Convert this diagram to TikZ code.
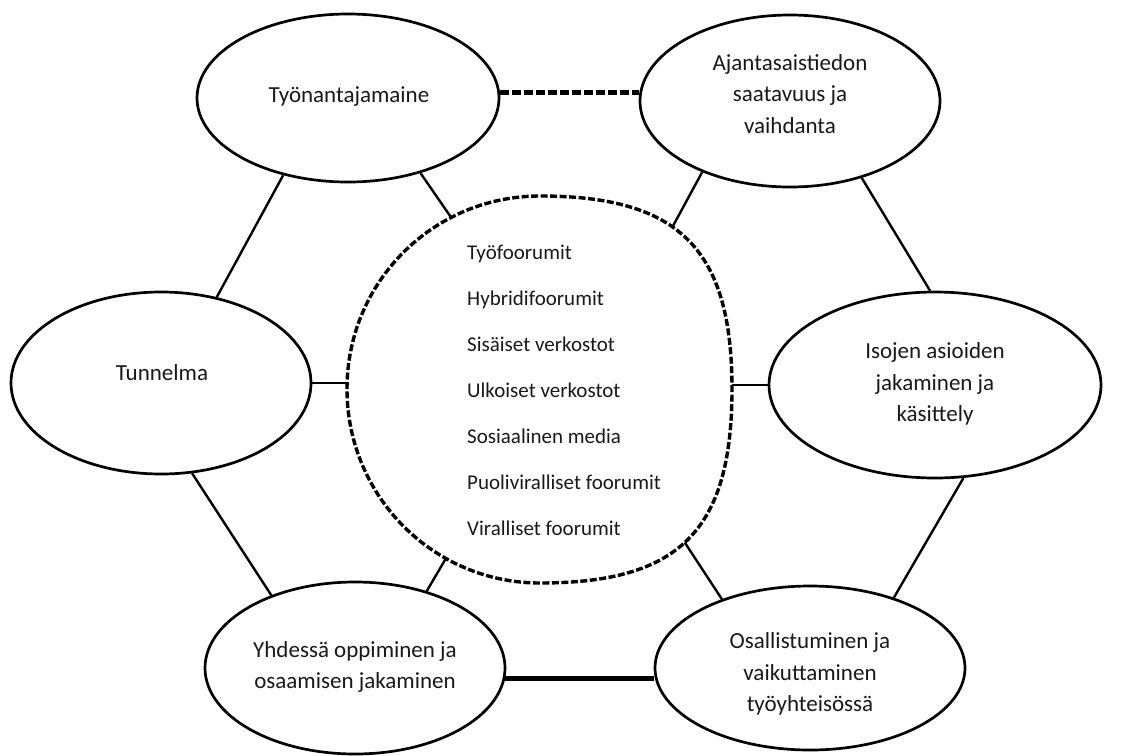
\documentclass[tikz,border=0pt]{standalone}
\usepackage{fontspec}
\setmainfont{Carlito}
\newcommand\outerfnt{\fontsize{23}{31.5}\selectfont}
\newcommand\innerfnt{\fontsize{21}{46}\selectfont}
\usetikzlibrary{shapes.geometric}
\tikzset{
  ell/.style={ellipse, draw=black, line width=2.7pt, inner sep=0pt},
  lbl/.style={align=center, font=\outerfnt, inner sep=0pt, text=black!90},
  conn/.style={draw=black, line width=2.4pt},
  boldconn/.style={draw=black, line width=4.5pt},
  dashconn/.style={draw=black, line width=4.5pt, dash pattern=on 9pt off 3pt},
  hubline/.style={draw=black, line width=3.4pt, dash pattern=on 7pt off 2.5pt},
}
\begin{document}
\begin{tikzpicture}[x=1pt,y=-1pt]
\fill[white] (0,0) rectangle (1121,755);
\useasboundingbox (0,0) rectangle (1121,755);

% central (hand-drawn) circle, with its connection points
\coordinate (cL) at (347,389);
\coordinate (cTop) at (540,196);
\coordinate (cR) at (732,389);
\coordinate (cB) at (540,583);
\draw[hubline] (cL) .. controls (347,282) and (433,196) .. (cTop) coordinate[pos=0.7] (cT)
  .. controls (680,196) and (732,250) .. (cR) coordinate[pos=0.42] (cA)
  .. controls (732,530) and (680,583) .. (cB) coordinate[pos=0.52] (cO)
  .. controls (433,583) and (347,496) .. (cL) coordinate[pos=0.32] (cY) -- cycle;
\node[anchor=west, align=left, font=\innerfnt, inner sep=0pt, text=black!90] (Ctext) at (467,390)
  {Työfoorumit\\Hybridifoorumit\\Sisäiset verkostot\\Ulkoiset verkostot\\Sosiaalinen media\\Puoliviralliset foorumit\\Viralliset foorumit};

% outer ellipses
\node[ell, minimum width=302pt, minimum height=168pt] (T) at (348,98) {};
\node[ell, minimum width=300pt, minimum height=172pt] (A) at (790,101) {};
\node[ell, minimum width=332pt, minimum height=186pt] (I) at (935,385) {};
\node[ell, minimum width=300pt, minimum height=182pt] (U) at (161,383) {};
\node[ell, minimum width=300pt, minimum height=172pt] (Y) at (355,668) {};
\node[ell, minimum width=310pt, minimum height=164pt] (O) at (810,668) {};

% labels
\node[lbl] (Ttext) at (349,97) {Työnantajamaine};
\node[lbl] (Atext) at (790,94) {Ajantasaistiedon\\saatavuus ja\\vaihdanta};
\node[lbl] (Itext) at (935,384) {Isojen asioiden\\jakaminen ja\\käsittely};
\node[lbl] (Utext) at (162,373) {Tunnelma};
\node[lbl] (Ytext) at (355,667) {Yhdessä oppiminen ja\\osaamisen jakaminen};
\node[lbl] (Otext) at (810,674) {Osallistuminen ja\\vaikuttaminen\\työyhteisössä};

% connectors between outer ellipses
\path (T.2.5) coordinate (tA);
\draw[dashconn] (tA) -- (tA -| A.west);
\path (Y.-4) coordinate (yO);
\draw[boldconn] (yO) -- (yO -| O.west);
\draw[conn] (T.-130.7) -- (U.57.7);
\draw[conn] (A.-47.7) -- (I.93);
\draw[conn] (U.-71) -- (Y.139.6);
\draw[conn] (I.-73.6) -- (O.40.9);

% connectors to central circle
\draw[conn] (T.-46.6) -- (cT);
\draw[conn] (A.-141.7) -- (cA);
\draw[conn] (I.180) -- (I.180 -| cR);
\draw[conn] (U.0) -- (U.0 -| cL);
\draw[conn] (Y.47) -- (cY);
\draw[conn] (O.142.3) -- (cO);
\end{tikzpicture}
\end{document}
